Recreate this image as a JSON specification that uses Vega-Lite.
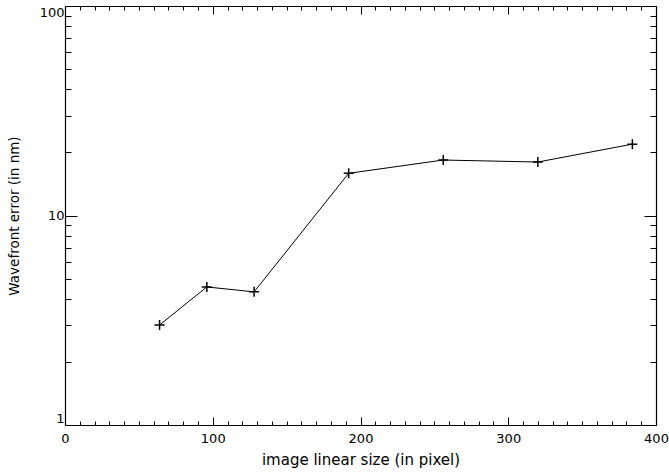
{
  "$schema": "https://vega.github.io/schema/vega-lite/v6.json",
  "width": 591,
  "height": 419,
  "autosize": {"type": "none"},
  "padding": {"left": 65, "top": 6, "right": 13, "bottom": 49},
  "background": "white",
  "config": {
    "view": {"stroke": null},
    "axis": {
      "grid": false,
      "domainColor": "#000000",
      "domainWidth": 1.2,
      "tickColor": "#000000",
      "tickWidth": 1,
      "labelFont": "DejaVu Sans",
      "labelFontSize": 13,
      "labelColor": "#000000",
      "titleFont": "DejaVu Sans",
      "titleFontWeight": "normal",
      "titleColor": "#000000"
    }
  },
  "data": {
    "values": [
      {"size": 64, "err": 3.0},
      {"size": 96, "err": 4.56},
      {"size": 128, "err": 4.32},
      {"size": 192, "err": 15.9},
      {"size": 256, "err": 18.4},
      {"size": 320, "err": 18.0},
      {"size": 384, "err": 21.9}
    ]
  },
  "layer": [
    {
      "mark": {"type": "line", "color": "#000000", "strokeWidth": 1},
      "encoding": {
        "x": {
          "field": "size", "type": "quantitative",
          "scale": {"domain": [0, 400], "nice": false, "zero": false},
          "axis": {
            "orient": "bottom",
            "title": "image linear size (in pixel)",
            "titleFontSize": 15,
            "values": [0,10,20,30,40,50,60,70,80,90,100,110,120,130,140,150,160,170,180,190,200,210,220,230,240,250,260,270,280,290,300,310,320,330,340,350,360,370,380,390,400],
            "labelExpr": "datum.value % 100 === 0 ? datum.label : ''",
            "format": "d",
            "tickSize": {"condition": {"test": "datum.value % 100 === 0", "value": -8}, "value": -4},
            "labelPadding": 15,
            "labelFlush": false,
            "labelOverlap": false,
            "titlePadding": 3
          }
        },
        "y": {
          "field": "err", "type": "quantitative",
          "scale": {"type": "log", "domain": [1, 100], "nice": false},
          "axis": {
            "orient": "left",
            "title": "Wavefront error (in nm)",
            "titleFontSize": 13.5,
            "titleX": -44,
            "titleBaseline": "bottom",
            "values": [1,2,3,4,5,6,7,8,9,10,20,30,40,50,60,70,80,90,100],
            "labelExpr": "(datum.value === 1 || datum.value === 10 || datum.value === 100) ? datum.label : ''",
            "format": "d",
            "tickSize": {"condition": {"test": "datum.value === 1 || datum.value === 10 || datum.value === 100", "value": -12}, "value": -6},
            "labelPadding": 13,
            "labelFlush": true,
            "labelOverlap": false
          }
        }
      }
    },
    {
      "mark": {"type": "point", "shape": "M-1,0L1,0M0,-1L0,1", "color": "#000000", "filled": false, "strokeWidth": 1.5, "size": 100, "opacity": 1},
      "encoding": {
        "x": {"field": "size", "type": "quantitative", "axis": null},
        "y": {"field": "err", "type": "quantitative", "axis": null}
      }
    },
    {
      "mark": {"type": "line", "opacity": 0},
      "encoding": {
        "x": {
          "field": "size", "type": "quantitative",
          "axis": {
            "orient": "top", "title": null, "labels": false,
            "values": [0,10,20,30,40,50,60,70,80,90,100,110,120,130,140,150,160,170,180,190,200,210,220,230,240,250,260,270,280,290,300,310,320,330,340,350,360,370,380,390,400],
            "tickSize": {"condition": {"test": "datum.value % 100 === 0", "value": -8}, "value": -4}
          }
        },
        "y": {
          "field": "err", "type": "quantitative",
          "axis": {
            "orient": "right", "title": null, "labels": false,
            "values": [1,2,3,4,5,6,7,8,9,10,20,30,40,50,60,70,80,90,100],
            "tickSize": {"condition": {"test": "datum.value === 1 || datum.value === 10 || datum.value === 100", "value": -12}, "value": -6}
          }
        }
      }
    }
  ],
  "resolve": {"axis": {"x": "independent", "y": "independent"}}
}
